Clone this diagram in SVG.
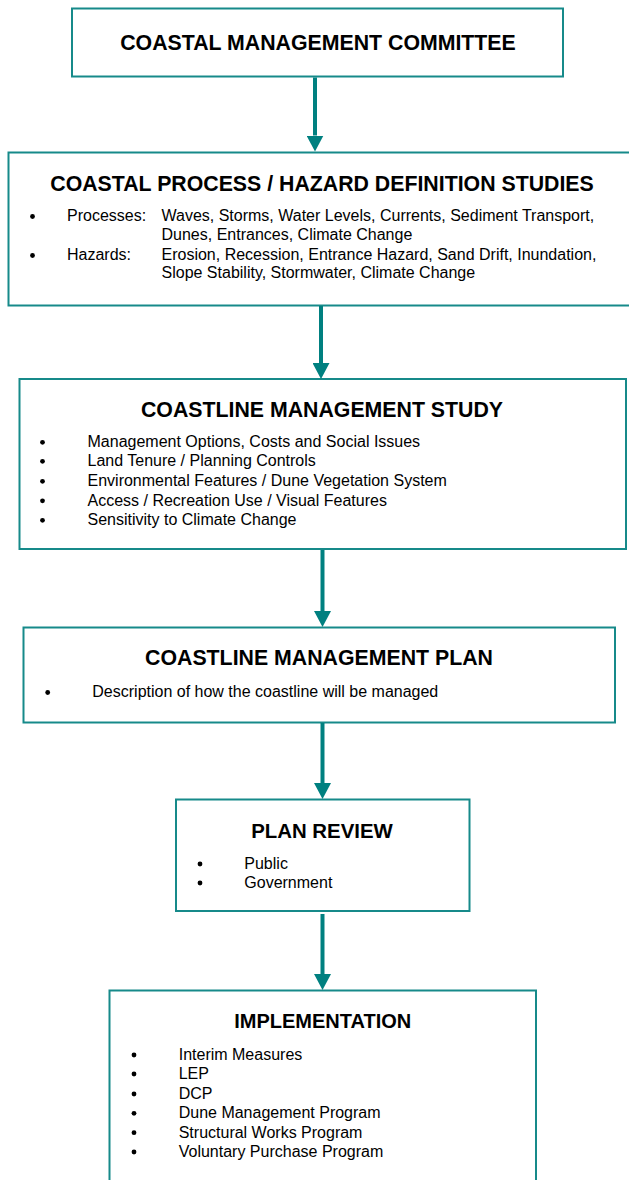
<svg xmlns="http://www.w3.org/2000/svg" width="629" height="1180" viewBox="0 0 629 1180">
<style>
.box{fill:#fff;stroke:#168a8a;stroke-width:2}
.title{font-family:"Liberation Sans",Arial,sans-serif;font-weight:bold;font-size:21.3px;fill:#000;text-anchor:middle}
.body{font-family:"Liberation Sans",Arial,sans-serif;font-size:16px;fill:#000}
.bul{fill:#000}
.conn{stroke:#008080;stroke-width:4;fill:none}
</style>
<defs>
<marker id="ah" markerUnits="userSpaceOnUse" viewBox="0 0 16 17" refX="0" refY="8.5" markerWidth="16" markerHeight="17" orient="auto">
<path d="M0,0 L16,8.5 L0,17 z" fill="#008080"/>
</marker>
</defs>
<rect width="629" height="1180" fill="#fff"/>

<g id="n1">
<rect class="box" x="72" y="8.5" width="491" height="68"/>
<text class="title" x="318" y="50">COASTAL MANAGEMENT COMMITTEE</text>
</g>

<g id="n2">
<rect class="box" x="8.5" y="152.5" width="650" height="153"/>
<text class="title" x="322" y="190.5">COASTAL PROCESS / HAZARD DEFINITION STUDIES</text>
<circle class="bul" cx="32.5" cy="216.5" r="2.4"/>
<text class="body" x="67" y="221">Processes:</text>
<text class="body" x="161.5" y="221">Waves, Storms, Water Levels, Currents, Sediment Transport,</text>
<text class="body" x="161.5" y="240">Dunes, Entrances, Climate Change</text>
<circle class="bul" cx="32.5" cy="255.5" r="2.4"/>
<text class="body" x="67" y="260">Hazards:</text>
<text class="body" x="161.5" y="260">Erosion, Recession, Entrance Hazard, Sand Drift, Inundation,</text>
<text class="body" x="161.5" y="278">Slope Stability, Stormwater, Climate Change</text>
</g>

<g id="n3">
<rect class="box" x="19.5" y="379" width="606.5" height="170"/>
<text class="title" x="322" y="416.5">COASTLINE MANAGEMENT STUDY</text>
<circle class="bul" cx="42.5" cy="442.3" r="2.4"/>
<text class="body" x="87.5" y="447">Management Options, Costs and Social Issues</text>
<circle class="bul" cx="42.5" cy="461.3" r="2.4"/>
<text class="body" x="87.5" y="466">Land Tenure / Planning Controls</text>
<circle class="bul" cx="42.5" cy="481.3" r="2.4"/>
<text class="body" x="87.5" y="486">Environmental Features / Dune Vegetation System</text>
<circle class="bul" cx="42.5" cy="500.8" r="2.4"/>
<text class="body" x="87.5" y="505.5">Access / Recreation Use / Visual Features</text>
<circle class="bul" cx="42.5" cy="520.3" r="2.4"/>
<text class="body" x="87.5" y="525">Sensitivity to Climate Change</text>
</g>

<g id="n4">
<rect class="box" x="23.5" y="627.5" width="591.5" height="95"/>
<text class="title" x="319" y="665">COASTLINE MANAGEMENT PLAN</text>
<circle class="bul" cx="47.7" cy="692.5" r="2.4"/>
<text class="body" x="92.3" y="697">Description of how the coastline will be managed</text>
</g>

<g id="n5">
<rect class="box" x="176" y="799.5" width="293.5" height="111.5"/>
<text class="title" x="322" y="838.3" style="font-size:20.4px">PLAN REVIEW</text>
<circle class="bul" cx="200" cy="864" r="2.4"/>
<text class="body" x="244.3" y="869">Public</text>
<circle class="bul" cx="200" cy="883" r="2.4"/>
<text class="body" x="244.3" y="888">Government</text>
</g>

<g id="n6">
<path class="box" d="M109.5,1195 V990.5 H536 V1195"/>
<text class="title" x="322.7" y="1028.3" style="font-size:20px">IMPLEMENTATION</text>
<circle class="bul" cx="134" cy="1055" r="2.4"/>
<text class="body" x="178.7" y="1060">Interim Measures</text>
<circle class="bul" cx="134" cy="1074" r="2.4"/>
<text class="body" x="178.7" y="1079">LEP</text>
<circle class="bul" cx="134" cy="1094" r="2.4"/>
<text class="body" x="178.7" y="1099">DCP</text>
<circle class="bul" cx="134" cy="1113.3" r="2.4"/>
<text class="body" x="178.7" y="1118.3">Dune Management Program</text>
<circle class="bul" cx="134" cy="1132.7" r="2.4"/>
<text class="body" x="178.7" y="1137.7">Structural Works Program</text>
<circle class="bul" cx="134" cy="1152" r="2.4"/>
<text class="body" x="178.7" y="1157">Voluntary Purchase Program</text>
</g>

<g id="connectors">
<line class="conn" x1="315" y1="77.5" x2="315" y2="135.5" marker-end="url(#ah)"/>
<line class="conn" x1="321" y1="306" x2="321" y2="363" marker-end="url(#ah)"/>
<line class="conn" x1="322.5" y1="550" x2="322.5" y2="611" marker-end="url(#ah)"/>
<line class="conn" x1="322.5" y1="723" x2="322.5" y2="783" marker-end="url(#ah)"/>
<line class="conn" x1="322.5" y1="914" x2="322.5" y2="974" marker-end="url(#ah)"/>
</g>
</svg>
